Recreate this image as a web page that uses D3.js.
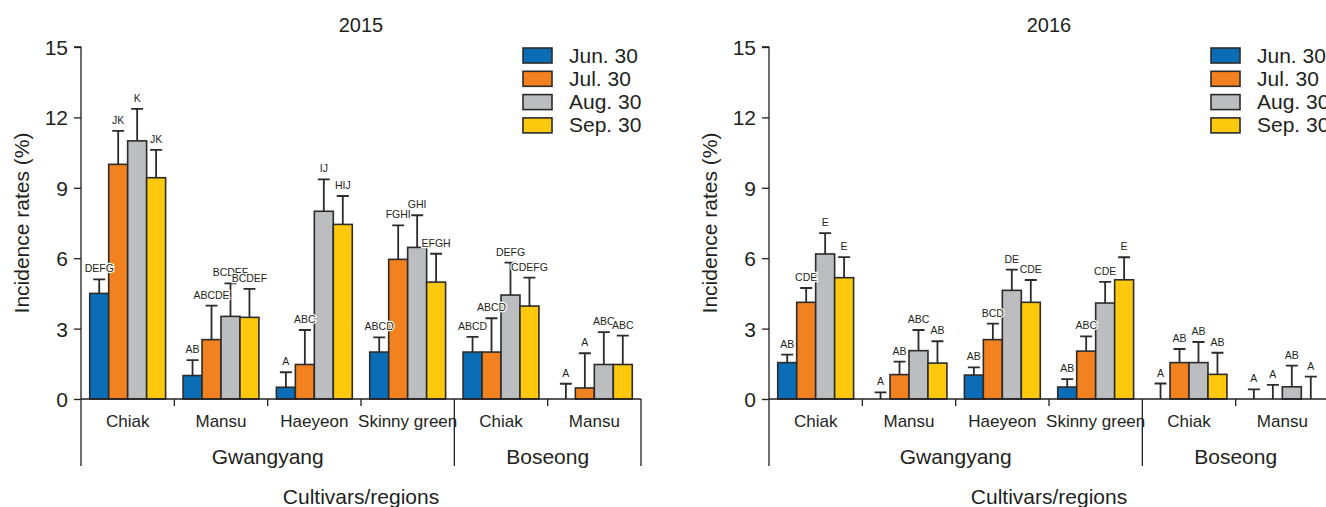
<!DOCTYPE html>
<html lang="en">
<head>
<meta charset="UTF-8">
<title>Incidence rates</title>
<style>
    body { margin: 0; background: #fff; }
    svg text { font-family: "Liberation Sans", Arial, sans-serif; fill: #231f20; }
    .bar { stroke: #2b2b2b; stroke-width: 1.6px; }
    .err { stroke: #2b2b2b; stroke-width: 1.8px; fill: none; }
    .axis line, .axis path { stroke: #231f20; stroke-width: 1.3px; }
    .sig { font-size: 10.5px; paint-order: stroke; stroke: #fff; stroke-width: 2.5px; }
</style>
</head>
<body>
<div id="chart"></div>
<script src="https://cdn.jsdelivr.net/npm/d3@7"></script>
<script>
    var width = 1326, height = 507;

    var dates = ["Jun. 30", "Jul. 30", "Aug. 30", "Sep. 30"];
    var colors = ["#0a6db5", "#f2821f", "#bcbdc0", "#fec80c"];
    var cultivars = ["Chiak", "Mansu", "Haeyeon", "Skinny green", "Chiak", "Mansu"];
    var regionOf = ["Gwangyang", "Gwangyang", "Gwangyang", "Gwangyang", "Boseong", "Boseong"];
    var years = ["2015", "2016"];
    var yTicks = [0, 3, 6, 9, 12, 15];

    // means per cultivar/region, one value per date
    var mean2015 = [
        [4.5, 10.0, 11.0, 9.43],
        [1.0, 2.53, 3.52, 3.48],
        [0.5, 1.47, 8.0, 7.44],
        [2.0, 5.95, 6.46, 4.98],
        [2.0, 2.0, 4.43, 3.96],
        [0, 0.47, 1.47, 1.47]
    ];
    var err2015 = [
        [0.6, 1.43, 1.36, 1.19],
        [0.66, 1.45, 1.41, 1.21],
        [0.64, 1.47, 1.36, 1.21],
        [0.63, 1.45, 1.37, 1.21],
        [0.65, 1.44, 1.38, 1.21],
        [0.65, 1.48, 1.38, 1.23]
    ];
    var sig2015 = [
        ["DEFG", "JK", "K", "JK"],
        ["AB", "ABCDE", "BCDEF", "BCDEF"],
        ["A", "ABC", "IJ", "HIJ"],
        ["ABCD", "FGHI", "GHI", "EFGH"],
        ["ABCD", "ABCD", "DEFG", "CDEFG"],
        ["A", "A", "ABC", "ABC"]
    ];

    var mean2016 = [
        [1.55, 4.12, 6.18, 5.17],
        [0, 1.04, 2.06, 1.53],
        [1.02, 2.53, 4.63, 4.12],
        [0.51, 2.04, 4.09, 5.08],
        [0, 1.55, 1.55, 1.05],
        [0, 0, 0.52, 0]
    ];
    var err2016 = [
        [0.34, 0.61, 0.89, 0.88],
        [0.28, 0.55, 0.88, 0.93],
        [0.33, 0.68, 0.88, 0.95],
        [0.34, 0.63, 0.9, 0.96],
        [0.66, 0.58, 0.88, 0.92],
        [0.41, 0.6, 0.9, 0.95]
    ];
    var sig2016 = [
        ["AB", "CDE", "E", "E"],
        ["A", "AB", "ABC", "AB"],
        ["AB", "BCD", "DE", "CDE"],
        ["AB", "ABC", "CDE", "E"],
        ["A", "AB", "AB", "AB"],
        ["A", "A", "AB", "A"]
    ];

    var svg = d3.select("#chart").append("svg")
        .attr("width", width)
        .attr("height", height);

    drawPanel(81, years[0], mean2015, err2015, sig2015);
    drawPanel(769, years[1], mean2016, err2016, sig2016);

    function drawPanel(left, title, means, errs, sigs) {
        var plotW = 560, top = 47, bottom = 399;
        var g = svg.append("g").attr("transform", "translate(" + left + ",0)");

        var y = d3.scaleLinear().domain([0, 15]).range([bottom, top]);
        var idx = d3.range(cultivars.length);
        var x0 = d3.scaleBand().domain(idx).range([0, plotW]).paddingInner(0).paddingOuter(0);
        var x1 = d3.scaleBand().domain(dates).range([0, x0.bandwidth()]).paddingInner(0).paddingOuter(0.46);

        // title
        g.append("text")
            .attr("x", plotW / 2).attr("y", 32)
            .attr("text-anchor", "middle")
            .style("font-size", "20px")
            .text(title);

        // y axis
        g.append("g")
            .attr("class", "axis")
            .call(d3.axisLeft(y).tickValues(yTicks).tickSize(7).tickPadding(6))
            .call(function (a) { a.select(".domain").attr("d", "M-7," + top + "H0V" + bottom); })
            .selectAll("text")
            .style("font-size", "21px")
            .attr("dy", "0.36em");

        g.append("text")
            .attr("transform", "translate(-52," + ((top + bottom) / 2) + ") rotate(-90)")
            .attr("text-anchor", "middle")
            .style("font-size", "21px")
            .text("Incidence rates (%)");

        // bars
        var flat = [];
        idx.forEach(function (i) {
            dates.forEach(function (d, j) {
                flat.push({i: i, date: d, j: j, v: means[i][j], e: errs[i][j], s: sigs[i][j]});
            });
        });
        function cx(d) { return x0(d.i) + x1(d.date) + x1.bandwidth() / 2; }

        g.append("g").selectAll("rect")
            .data(flat.filter(function (d) { return d.v > 0; }))
            .enter().append("rect")
            .attr("class", "bar")
            .attr("x", function (d) { return x0(d.i) + x1(d.date); })
            .attr("width", x1.bandwidth())
            .attr("y", function (d) { return y(d.v); })
            .attr("height", function (d) { return y(0) - y(d.v); })
            .style("fill", function (d) { return colors[d.j]; });

        g.append("g").selectAll("path")
            .data(flat)
            .enter().append("path")
            .attr("class", "err")
            .attr("d", function (d) {
                return "M" + cx(d) + "," + y(d.v) + "V" + y(d.v + d.e) +
                    "M" + (cx(d) - 6) + "," + y(d.v + d.e) + "H" + (cx(d) + 6);
            });

        g.append("g").selectAll("text")
            .data(flat)
            .enter().append("text")
            .attr("class", "sig")
            .attr("x", cx)
            .attr("y", function (d) { return y(d.v + d.e) - 7; })
            .attr("text-anchor", "middle")
            .text(function (d) { return d.s; });

        // x axis
        var ax = g.append("g").attr("class", "axis");
        ax.append("line")
            .attr("x1", 0).attr("x2", plotW)
            .attr("y1", bottom).attr("y2", bottom);

        idx.forEach(function (i) {
            var bx = x0(i) + x0.bandwidth();
            var regionEnd = i === idx.length - 1 || regionOf[i] !== regionOf[i + 1];
            ax.append("line")
                .attr("x1", bx).attr("x2", bx)
                .attr("y1", bottom).attr("y2", regionEnd ? 466 : 406);
        });
        ax.append("line").attr("x1", 0).attr("x2", 0).attr("y1", bottom).attr("y2", 466);

        g.selectAll(".cat")
            .data(idx)
            .enter().append("text")
            .attr("class", "cat")
            .attr("x", function (i) { return x0(i) + x0.bandwidth() / 2; })
            .attr("y", 427)
            .attr("text-anchor", "middle")
            .style("font-size", "17px")
            .text(function (i) { return cultivars[i]; });

        // regions
        var regionNames = Array.from(new Set(regionOf));
        regionNames.forEach(function (r) {
            var members = idx.filter(function (i) { return regionOf[i] === r; });
            var x_start = x0(members[0]),
                x_end = x0(members[members.length - 1]) + x0.bandwidth();
            g.append("text")
                .attr("x", (x_start + x_end) / 2)
                .attr("y", 464)
                .attr("text-anchor", "middle")
                .style("font-size", "21px")
                .text(r);
        });

        g.append("text")
            .attr("x", plotW / 2).attr("y", 504)
            .attr("text-anchor", "middle")
            .style("font-size", "21px")
            .text("Cultivars/regions");

        // legend
        var legend = g.selectAll(".legend")
            .data(dates)
            .enter().append("g")
            .attr("class", "legend")
            .attr("transform", function (d, j) { return "translate(442," + (48 + j * 23.3) + ")"; });

        legend.append("rect")
            .attr("class", "bar")
            .attr("width", 29).attr("height", 15)
            .style("fill", function (d, j) { return colors[j]; });

        legend.append("text")
            .attr("x", 46).attr("y", 14.5)
            .style("font-size", "21px")
            .text(function (d) { return d; });
    }
</script>
</body>
</html>
